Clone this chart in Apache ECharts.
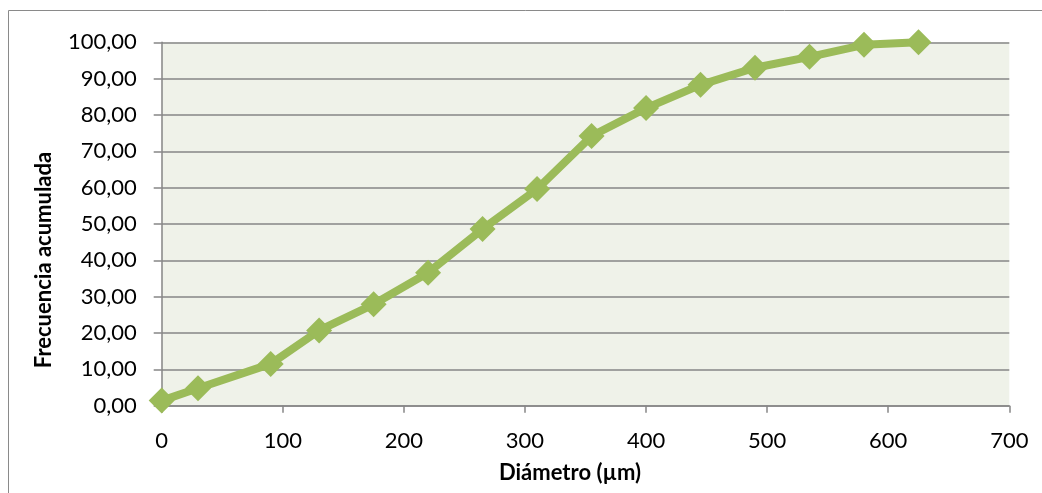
<!DOCTYPE html>
<html><head><meta charset="utf-8">
<script src="https://cdn.jsdelivr.net/npm/echarts@6/dist/echarts.min.js"></script>
<style>html,body{margin:0;padding:0;background:#fff}#c{width:1042px;height:493px}</style>
</head><body><div id="c"></div>
<script>
const diametro = [0, 30, 90, 130, 175, 220, 265, 310, 355, 400, 445, 490, 535, 580, 625];
const frecuencia = [1.4, 4.8, 11.5, 20.7, 27.9, 36.6, 48.6, 59.6, 74.2, 81.9, 88.3, 93.0, 96.0, 99.3, 100.0];
const xTitle = 'Diámetro (µm)';
const yTitle = 'Frecuencia acumulada';

const font = 'Lato, "Open Sans", sans-serif';
const chart = echarts.init(document.getElementById('c'), null, {renderer: 'canvas'});
chart.setOption({
  animation: false,
  backgroundColor: '#ffffff',
  grid: {left: 161.7, top: 42.3, right: 32.7, bottom: 87.3, show: true, backgroundColor: '#EFF2E9', borderWidth: 0},
  xAxis: {
    type: 'value', min: 0, max: 700, interval: 100,
    axisLine: {show: true, lineStyle: {color: '#868686', width: 1.5}},
    axisTick: {show: true, length: 7, lineStyle: {color: '#868686', width: 1.5}},
    splitLine: {show: false},
    axisLabel: {color: '#000', fontFamily: font, fontSize: 22, margin: 24}
  },
  yAxis: {
    type: 'value', min: 0, max: 100, interval: 10,
    axisLine: {show: true, lineStyle: {color: '#868686', width: 1.5}},
    axisTick: {show: true, length: 8, lineStyle: {color: '#868686', width: 1.5}},
    splitLine: {show: true, lineStyle: {color: '#868686', width: 1.5}},
    axisLabel: {color: '#000', fontFamily: font, fontSize: 22, margin: 25,
      formatter: v => v.toFixed(2).replace('.', ',')}
  },
  graphic: [
    {type: 'rect', shape: {x: 8.5, y: 10.5, width: 1200, height: 700}, style: {fill: 'none', stroke: '#8a8a8a', lineWidth: 1}, silent: true, z: -1},
    {type: 'text', x: 44, y: 260, rotation: Math.PI / 2, style: {text: yTitle, fontFamily: font, fontSize: 22, fontWeight: 'bold', fill: '#000', align: 'center', verticalAlign: 'middle'}},
    {type: 'text', x: 570, y: 473, style: {text: xTitle, fontFamily: font, fontSize: 22, fontWeight: 'bold', fill: '#000', align: 'center', verticalAlign: 'middle'}}
  ],
  series: [{
    type: 'line',
    data: diametro.map((x, i) => [x, frecuencia[i]]),
    symbol: 'diamond', symbolSize: 26,
    lineStyle: {color: '#9BBB59', width: 8},
    itemStyle: {color: '#9BBB59'},
    clip: false
  }]
});
</script></body></html>
